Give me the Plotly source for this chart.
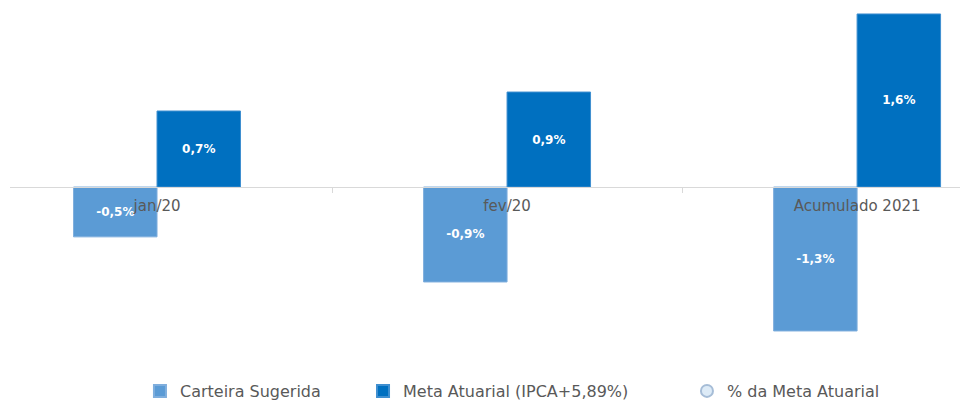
import plotly.graph_objects as go

categories = ["jan/20", "fev/20", "Acumulado 2021"]
carteira_sugerida = [-0.46, -0.876, -1.328]
meta_atuarial = [0.701, 0.876, 1.596]
pct_meta_atuarial = [None, None, None]

series_names = ["Carteira Sugerida", "Meta Atuarial (IPCA+5,89%)", "% da Meta Atuarial"]

def fmt(v):
    return ("%.1f%%" % v).replace(".", ",")

y_min, y_max = -1.688, 1.725
label_font = dict(family="DejaVu Sans", size=12, color="white", weight="bold")

fig = go.Figure()
fig.add_trace(go.Bar(
    x=categories, y=carteira_sugerida, name=series_names[0], legend="legend",
    marker=dict(color="#5B9BD5", line=dict(color="#7FAEDD", width=1)),
    text=[fmt(v) for v in carteira_sugerida], textposition="inside",
    insidetextanchor="middle", textangle=0, textfont=label_font,
))
fig.add_trace(go.Bar(
    x=categories, y=meta_atuarial, name=series_names[1], legend="legend2",
    marker=dict(color="#0070C0", line=dict(color="#3F8FD0", width=1)),
    text=[fmt(v) for v in meta_atuarial], textposition="inside",
    insidetextanchor="middle", textangle=0, textfont=label_font,
))
fig.add_trace(go.Scatter(
    x=categories, y=pct_meta_atuarial, name=series_names[2], mode="markers",
    legend="legend3",
    marker=dict(symbol="circle", size=9, color="#DDEBF7", line=dict(color="#A6BDD7", width=1)),
))

def leg(xpos):
    return dict(orientation="h", x=xpos, xanchor="left", y=-0.1027, yanchor="bottom",
                font=dict(size=16, color="#595959"), itemsizing="constant",
                bgcolor="rgba(0,0,0,0)")

fig.update_layout(
    width=965, height=403,
    margin=dict(l=10, r=5, t=0, b=33, autoexpand=False),
    paper_bgcolor="white", plot_bgcolor="white",
    barmode="group", bargap=0.523, bargroupgap=0,
    font=dict(family="DejaVu Sans", color="#595959"),
    showlegend=True,
    legend=leg(0.1368), legend2=leg(0.3716), legend3=leg(0.7126),
    xaxis=dict(
        type="category", range=[-0.42, 2.294], automargin=False,
        anchor="free", position=(0 - y_min) / (y_max - y_min),
        showline=True, linecolor="#D9D9D9", linewidth=1,
        ticks="outside", tickson="boundaries", ticklen=5, tickcolor="#D9D9D9",
        tickfont=dict(size=15, color="#595959"), ticklabelstandoff=5,
        showgrid=False, zeroline=False, layer="above traces",
    ),
    yaxis=dict(range=[y_min, y_max], visible=False, showgrid=False, zeroline=False,
               automargin=False),
)

fig.write_html("out.html", config={"displayModeBar": False},
               post_script="document.body.style.margin='0';")
